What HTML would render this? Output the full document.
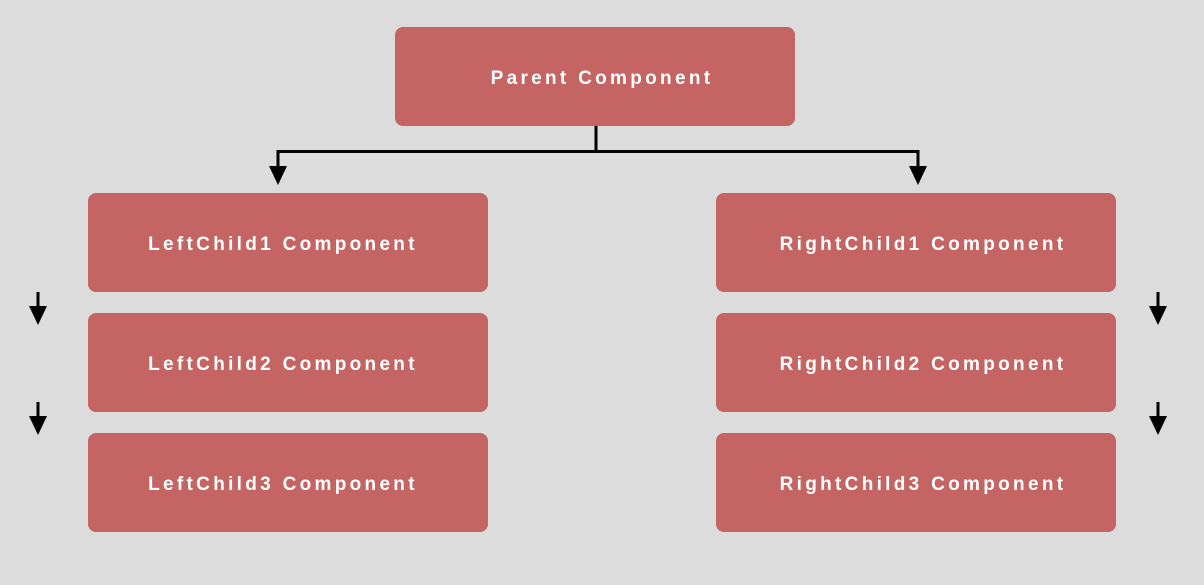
<!DOCTYPE html>
<html><head><style>
body{margin:0;width:1204px;height:585px;background:#dcdcdc;position:relative;overflow:hidden;font-family:"Liberation Sans",sans-serif}
.b{position:absolute;width:400px;height:99px;box-sizing:border-box;padding-top:4px;background:#c46563;border-radius:8px;color:#fff;font-weight:bold;font-size:19px;letter-spacing:3.3px;display:flex;align-items:center;justify-content:center}
.l{padding-right:10px}.r{padding-left:14px}
svg{position:absolute;left:0;top:0}
</style></head><body>
<div class="b" style="left:395px;top:27px;padding-left:14px">Parent Component</div>
<div class="b l" style="left:88px;top:193px">LeftChild1 Component</div>
<div class="b l" style="left:88px;top:313px">LeftChild2 Component</div>
<div class="b l" style="left:88px;top:433px">LeftChild3 Component</div>
<div class="b r" style="left:716px;top:193px">RightChild1 Component</div>
<div class="b r" style="left:716px;top:313px">RightChild2 Component</div>
<div class="b r" style="left:716px;top:433px">RightChild3 Component</div>
<svg width="1204" height="585">
<g stroke="#000" stroke-width="3" fill="none">
<path d="M596 126V152M278 168V151.5H918V168"/>
<path d="M38 292V308M38 402V418M1158 292V308M1158 402V418"/>
</g>
<g fill="#000">
<path d="M269 166H287L278 185Z"/><path d="M909 166H927L918 185Z"/>
<path d="M29 306H47L38 325Z"/><path d="M29 416H47L38 435Z"/>
<path d="M1149 306H1167L1158 325Z"/><path d="M1149 416H1167L1158 435Z"/>
</g>
</svg>
</body></html>
